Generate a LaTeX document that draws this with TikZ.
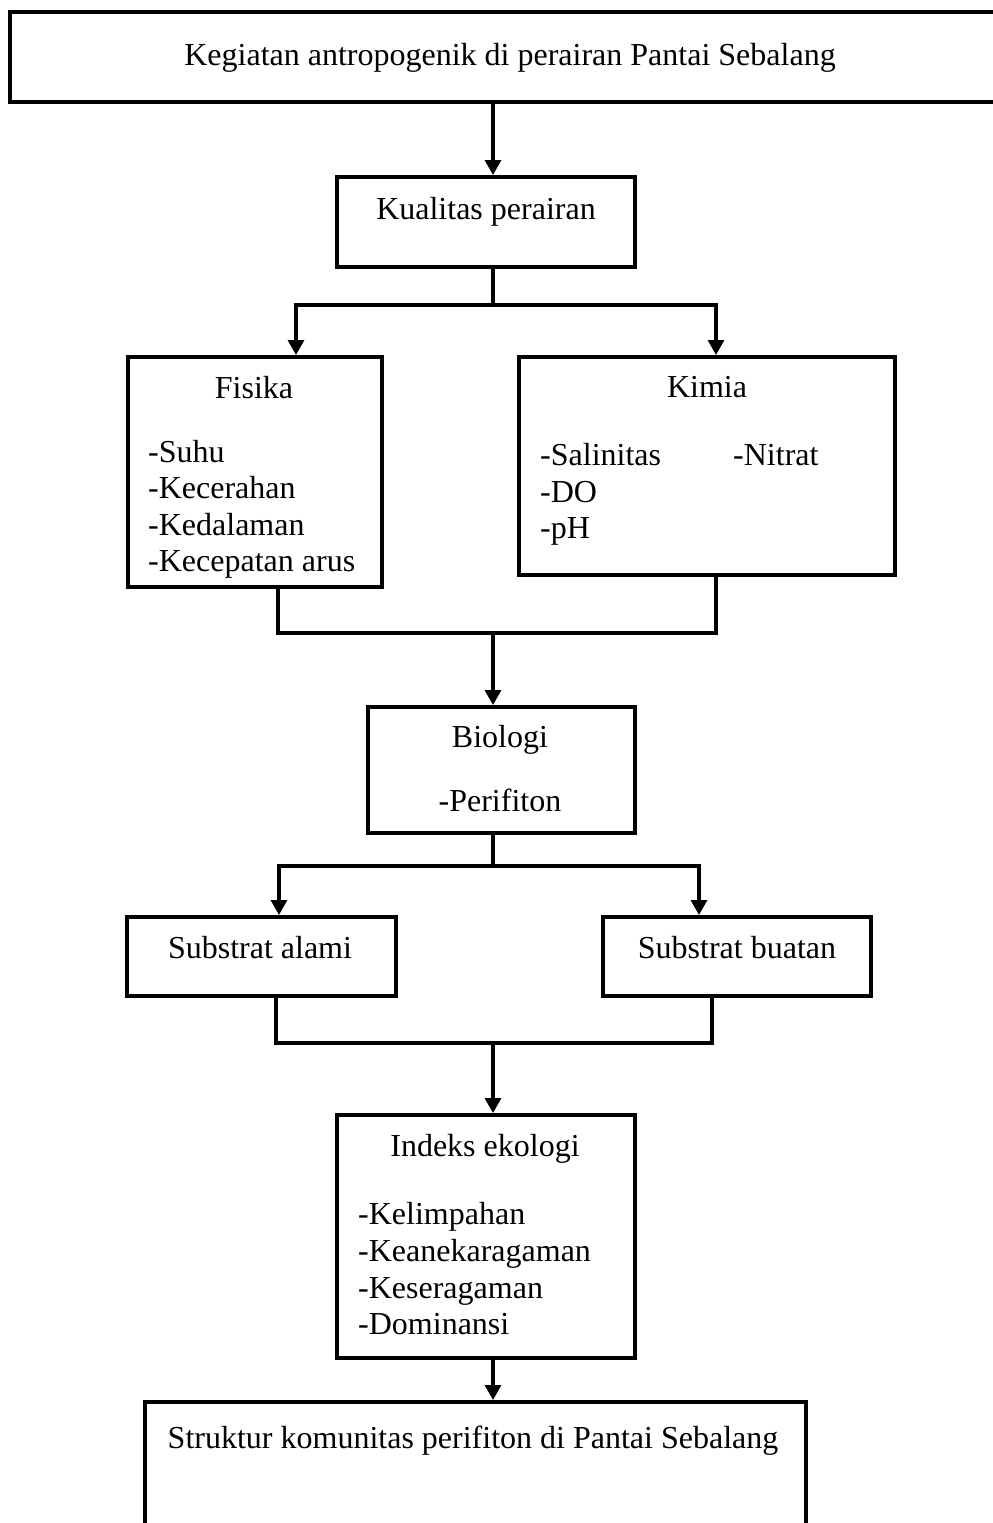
\documentclass[tikz,border=0pt]{standalone}
\usepackage{fontspec}
\setmainfont{Liberation Serif}
\usetikzlibrary{arrows.meta}
\begin{document}
\begin{tikzpicture}[x=1pt,y=-1pt,
  box/.style={draw, line width=4pt, inner sep=0pt, rectangle},
  txt/.style={inner sep=0pt, font=\fontsize{32}{37}\selectfont},
  conn/.style={line width=3.2pt, line join=miter},
  arr/.style={line width=3.2pt, -{Triangle[width=16pt 0 0,length=15pt 0 0]}}]
\useasboundingbox (0,0) rectangle (993,1523);
% boxes
\node[box, minimum width=1000pt, minimum height=90pt] (top) at (510,57) {};
\node[box, minimum width=298pt, minimum height=90pt] (kual) at (486,222) {};
\node[box, minimum width=254pt, minimum height=230pt] (fis) at (255,472) {};
\node[box, minimum width=376pt, minimum height=218pt] (kim) at (707,466) {};
\node[box, minimum width=267pt, minimum height=126pt] (bio) at (501.5,770) {};
\node[box, minimum width=269pt, minimum height=79pt] (sa) at (261.5,956.5) {};
\node[box, minimum width=268pt, minimum height=79pt] (sb) at (737,956.5) {};
\node[box, minimum width=298pt, minimum height=243pt] (ind) at (486,1236.5) {};
\node[box, minimum width=661pt, minimum height=158pt] (str) at (475.5,1481) {};
% texts
\node[txt, anchor=base] (tTop) at (510,65) {Kegiatan antropogenik di perairan Pantai Sebalang};
\node[txt, anchor=base] (tKual) at (486,219) {Kualitas perairan};
\node[txt, anchor=base] (tFis) at (254,398) {Fisika};
\node[txt, anchor=base west] (f1) at (148,462) {-Suhu};
\node[txt, anchor=base west] (f2) at (148,498) {-Kecerahan};
\node[txt, anchor=base west] (f3) at (148,535) {-Kedalaman};
\node[txt, anchor=base west] (f4) at (148,571) {-Kecepatan arus};
\node[txt, anchor=base] (tKim) at (707,397) {Kimia};
\node[txt, anchor=base west] (k1) at (540,465) {-Salinitas};
\node[txt, anchor=base west] (k4) at (733,465) {-Nitrat};
\node[txt, anchor=base west] (k2) at (540,502) {-DO};
\node[txt, anchor=base west] (k3) at (540,538) {-pH};
\node[txt, anchor=base] (tBio) at (500,747) {Biologi};
\node[txt, anchor=base] (b1) at (500,811) {-Perifiton};
\node[txt, anchor=base] (tSa) at (260,958) {Substrat alami};
\node[txt, anchor=base] (tSb) at (737,958) {Substrat buatan};
\node[txt, anchor=base] (tInd) at (485,1156) {Indeks ekologi};
\node[txt, anchor=base west] (i1) at (358,1224) {-Kelimpahan};
\node[txt, anchor=base west] (i2) at (358,1261) {-Keanekaragaman};
\node[txt, anchor=base west] (i3) at (358,1298) {-Keseragaman};
\node[txt, anchor=base west] (i4) at (358,1334) {-Dominansi};
\node[txt, anchor=base] (tStr) at (473,1448) {Struktur komunitas perifiton di Pantai Sebalang};
% connector guide coordinates
\coordinate (cx) at (493,0);
\coordinate (xf) at (296,0);
\coordinate (xk) at (716,0);
\coordinate (xfb) at (278,0);
\coordinate (xkb) at (716,0);
\coordinate (xsa) at (279,0);
\coordinate (xsb) at (699,0);
\coordinate (xsab) at (276,0);
\coordinate (xsbb) at (712,0);
\coordinate (j1) at (493,305);
\coordinate (j2) at (493,633);
\coordinate (j3) at (493,866);
\coordinate (j4) at (493,1043);
% connectors
\draw[arr] (top.south -| cx) -- (kual.north -| cx);
\draw[conn] (kual.south -| cx) -- (j1);
\draw[arr] (j1) -| (fis.north -| xf);
\draw[arr] (j1) -| (kim.north -| xk);
\draw[conn] (fis.south -| xfb) |- (j2) -| (kim.south -| xkb);
\draw[arr] (j2) -- (bio.north -| cx);
\draw[conn] (bio.south -| cx) -- (j3);
\draw[arr] (j3) -| (sa.north -| xsa);
\draw[arr] (j3) -| (sb.north -| xsb);
\draw[conn] (sa.south -| xsab) |- (j4) -| (sb.south -| xsbb);
\draw[arr] (j4) -- (ind.north -| cx);
\draw[arr] (ind.south -| cx) -- (str.north -| cx);
\end{tikzpicture}
\end{document}
